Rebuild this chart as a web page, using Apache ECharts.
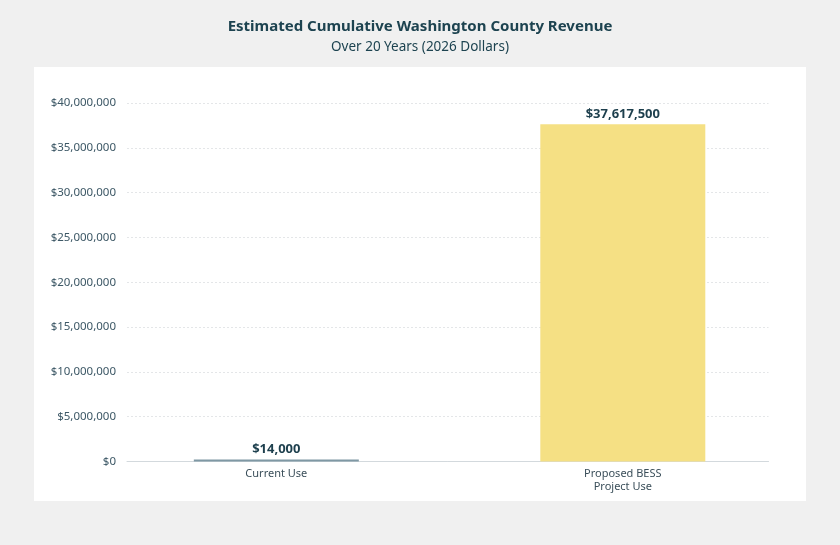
<!DOCTYPE html>
<html>
<head>
<meta charset="utf-8">
<script src="https://cdn.jsdelivr.net/npm/echarts@6/dist/echarts.min.js"></script>
<style>
  html, body { margin: 0; padding: 0; background: #f0f0f0; }
  #chart { width: 840px; height: 545px; }
</style>
</head>
<body>
<div id="chart"></div>
<script>
const titleText = 'Estimated Cumulative Washington County Revenue';
const subtitleText = 'Over 20 Years (2026 Dollars)';
const categories = ['Current Use', 'Proposed BESS\nProject Use'];
const revenue = [14000, 37617500];
const barColors = ['#7f98a4', '#f5e084'];
const yTicks = [0, 5000000, 10000000, 15000000, 20000000, 25000000, 30000000, 35000000, 40000000];

const FONT = '"Noto Sans", "Open Sans", sans-serif';
const fmtMoney = v => '$' + Math.round(v).toLocaleString('en-US');

const chart = echarts.init(document.getElementById('chart'), null, { renderer: 'canvas' });
chart.setOption({
  backgroundColor: '#f0f0f0',
  animation: false,
  graphic: [{
    type: 'rect',
    z: -10,
    shape: { x: 34, y: 67, width: 772, height: 434 },
    style: { fill: '#ffffff' }
  }],
  title: {
    text: titleText,
    subtext: subtitleText,
    left: 'center',
    top: 14,
    itemGap: 6,
    textStyle: { fontFamily: FONT, fontSize: 15, fontWeight: 'bold', color: '#1d4350' },
    subtextStyle: { fontFamily: FONT, fontSize: 13.5, color: '#1d4350' }
  },
  grid: { left: 127, right: 71.5, top: 103, bottom: 83.5, containLabel: false },
  xAxis: {
    type: 'value',
    min: -0.431,
    max: 1.4205,
    splitLine: { show: false },
    axisTick: { show: false },
    axisLine: { show: true, onZero: false, lineStyle: { color: '#d3d9dd', width: 1 } },
    axisLabel: {
      customValues: [0, 1],
      formatter: v => categories[Math.round(v)],
      fontFamily: FONT,
      fontSize: 11,
      color: '#3b4f5a',
      margin: 6,
      lineHeight: 13
    }
  },
  yAxis: {
    type: 'value',
    min: yTicks[0],
    max: yTicks[yTicks.length - 1],
    interval: yTicks[1] - yTicks[0],
    axisLine: { show: false },
    axisTick: { show: false },
    axisLabel: {
      formatter: fmtMoney,
      fontFamily: FONT,
      fontSize: 11.5,
      color: '#3d5866',
      margin: 11
    },
    splitLine: { show: true, lineStyle: { color: '#e4e6e8', type: [2, 2], width: 1 } }
  },
  series: [{
    type: 'bar',
    barWidth: 165,
    barMinHeight: 2,
    data: revenue.map((v, i) => ({ value: [i, v], itemStyle: { color: barColors[i] } })),
    label: {
      show: true,
      position: 'top',
      distance: 4,
      formatter: p => fmtMoney(p.value[1]),
      fontFamily: FONT,
      fontSize: 13,
      fontWeight: 'bold',
      color: '#1d3f4d'
    }
  }]
});
</script>
</body>
</html>
